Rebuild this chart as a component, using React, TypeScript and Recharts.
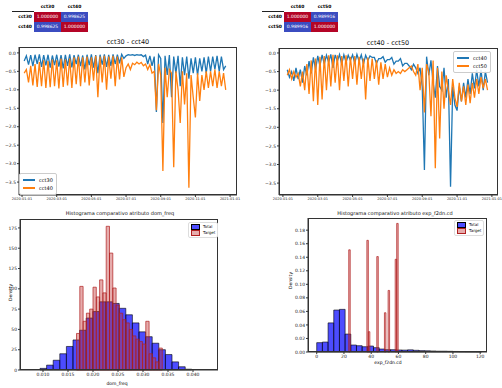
import React from "react";
import { LineChart, Line, XAxis, YAxis, ComposedChart, ReferenceArea } from "recharts";

const FONT = "DejaVu Sans, Verdana, sans-serif";
const BLUE = "#1f77b4";
const ORANGE = "#ff7f0e";

// x tick labels of the two line charts
const dateTicks = ["2020-01-01", "2020-03-01", "2020-05-01", "2020-07-01", "2020-09-01", "2020-11-01", "2021-01-01"];
const dateTickPos = [0, 16, 32, 48, 64, 80, 96];
const lineYTicks = [0, -0.5, -1, -1.5, -2, -2.5, -3, -3.5];

// cct30 vs cct40
const cct30 = [
  -0.22, -0.08, -0.32, -0.06, -0.36, -0.05, -0.3, -0.04, -0.38, -0.06, -0.34, -0.05, -0.4, -0.07, -0.33, -0.05,
  -0.37, -0.06, -0.42, -0.05, -0.35, -0.04, -0.39, -0.06, -0.3, -0.05, -0.36, -0.07, -0.45, -0.05, -0.33, -0.04,
  -0.4, -0.06, -0.55, -0.05, -0.32, -0.04, -0.38, -0.05, -0.35, -0.04, -0.3, -0.05, -0.28, -0.04, -0.15,
  -0.08, -0.05, -0.06, -0.05, -0.07, -0.05, -0.06, -0.05, -0.1, -0.06, -0.3, -0.08, -0.35,
  -0.1, -1.6, -0.05, -0.15, -1.9, -0.08, -0.6, -0.06, -1.2, -0.1, -0.55, -0.08, -0.9, -0.12, -0.6, -0.1, -0.7,
  -0.15, -0.55, -0.12, -0.6, -0.15, -0.5, -0.12, -0.55, -0.1, -0.5, -0.1, -0.45, -0.08, -0.5, -0.1, -0.45, -0.35,
];
const cct40a = [
  -0.55, -0.45, -0.8, -0.35, -0.88, -0.3, -0.92, -0.25, -0.9, -0.2, -0.95, -0.22, -0.93, -0.18, -0.9, -0.2,
  -0.96, -0.15, -0.92, -0.18, -0.88, -0.15, -0.95, -0.12, -0.85, -0.1, -0.9, -0.12, -0.8, -0.1, -0.88, -0.12,
  -0.75, -0.08, -1.2, -0.1, -0.8, -0.08, -1.0, -0.1, -0.7, -0.08, -0.9, -0.1, -0.72, -0.12, -0.65,
  -0.4, -0.3, -0.45, -0.28, -0.32, -0.25, -0.3, -0.26, -0.35, -0.3, -0.45, -0.32, -0.55,
  -0.5, -1.55, -0.3, -0.6, -3.2, -0.4, -1.2, -0.45, -0.55, -3.1, -0.5, -1.0, -1.9, -0.5, -1.4, -0.55, -3.65,
  -0.6, -1.2, -1.75, -0.55, -1.3, -0.6, -1.0, -0.5, -0.95, -0.5, -0.9, -0.45, -0.95, -0.5, -0.9, -0.55, -1.0,
];

// cct40 vs cct50
const cct40b = [
  -0.45, -0.65, -0.5, -0.75, -0.4, -0.7, -0.45, -0.8, -0.35, -0.6, -0.22, -0.55, -0.12, -0.45, -0.08, -0.35,
  -0.05, -0.3, -0.06, -0.25, -0.04, -0.4, -0.05, -0.22, -0.04, -0.3, -0.05, -0.25, -0.06, -0.2, -0.05, -0.28,
  -0.04, -0.22, -0.05, -0.3, -0.06, -0.2, -0.08, -0.12, -0.12, -0.28, -0.15, -0.15, -0.1, -0.25, -0.18, -0.18,
  -0.12, -0.3, -0.22, -0.22, -0.15, -0.35, -0.28, -0.28, -0.35, -0.45, -0.3, -0.4, -0.55, -0.4, -0.9, -3.15,
  -0.1, -0.6, -0.2, -0.8, -1.2, -0.35, -0.9, -1.0, -0.4, -1.2, -0.7, -3.6, -0.9, -1.4, -1.55, -0.9, -1.3, -0.8,
  -1.2, -0.7, -1.1, -0.55, -0.95, -0.45, -0.9, -0.45, -1.0, -0.5, -0.8,
];
const cct50 = [
  -0.6, -0.45, -0.7, -0.5, -0.65, -0.55, -0.9, -0.5, -1.0, -0.3, -1.1, -0.2, -1.3, -0.15, -1.4, -0.1,
  -1.25, -0.08, -1.0, -0.06, -0.9, -0.05, -0.8, -0.06, -1.0, -0.08, -0.75, -0.06, -0.9, -0.1, -0.7, -0.08,
  -0.85, -0.1, -0.7, -0.15, -1.25, -0.12, -0.75, -0.15, -0.7, -0.2, -0.85, -0.25, -0.7, -0.3, -0.65, -0.4,
  -0.6, -0.45, -0.55, -0.5, -0.55, -0.45, -0.5, -0.45, -0.4, -0.35, -0.5, -0.6, -0.3, -1.0, -0.4, -1.6,
  -0.3, -0.5, -1.7, -0.2, -3.1, -0.4, -2.3, -0.5, -1.5, -0.6, -1.0, -1.4, -0.7, -1.2, -1.45, -0.8, -1.3, -0.9,
  -1.4, -0.85, -1.35, -0.8, -1.2, -0.7, -1.1, -0.65, -0.95, -0.7, -1.0,
];

// histogram dom_freq
const domTicks = [0.01, 0.015, 0.02, 0.025, 0.03, 0.035, 0.04];
const domYTicks = [0, 25, 50, 75, 100, 125, 150, 175];
const domTotalStart = 0.0094;
const domTotalWidth = 0.00132;
const domTotal = [2, 6, 12, 20, 29, 37, 49, 64, 72, 84, 84, 82, 76, 68, 58, 47, 41, 33, 25, 19, 10, 4, 1];
const domTargetStart = 0.0167;
const domTargetWidth = 0.00066;
const domTarget = [45, 103, 60, 70, 75, 102, 90, 111, 95, 177, 144, 101, 80, 70, 62, 58, 50, 42, 38, 35, 32, 60, 20, 15, 10, 27];

// histogram exp
const expTicks = [0, 20, 40, 60, 80, 100, 120];
const expYTicks = [0, 0.02, 0.04, 0.06, 0.08, 0.1, 0.12, 0.14, 0.16, 0.18];
const expTotalWidth = 4.17;
const expTotal = [
  0.0138, 0.0147, 0.043, 0.062, 0.063, 0.0265, 0.0103, 0.0093, 0.0078, 0.0088, 0.0064, 0.0044, 0.0034, 0.0034,
  0.003, 0.0028, 0.0032, 0.0025, 0.002, 0.0018, 0.0015, 0.0012, 0.0012, 0.001, 0.0008, 0.0006, 0.0005, 0.0004, 0.0003,
];
const expTargetX = [23.5, 36.8, 37.9, 44.1, 49.7, 52.4, 57.6, 58.7];
const expTargetWidth = 1.1;
const expTarget = [0.151, 0.165, 0.03, 0.141, 0.058, 0.091, 0.137, 0.19];

const tickStyle = { fontSize: 4.5, fill: "#222", fontFamily: FONT };
const xTickStyle = { fontSize: 3.5, fill: "#222", fontFamily: FONT };
const minus = (s: string) => s.replace("-", "\u2212");

function CorrTable({ left, names, values }: any) {
  const cell = (v: string, red: boolean) => (
    <td
      style={{
        background: red ? "#b40426" : "#3b4cc0",
        color: "#fff",
        width: 27,
        height: 10,
        padding: 0,
        textAlign: "center",
        fontSize: 4.5,
      }}
    >
      {v}
    </td>
  );
  return (
    <table
      style={{
        position: "absolute",
        left,
        top: 2,
        borderCollapse: "collapse",
        fontFamily: FONT,
        fontSize: 4.5,
      }}
    >
      <tbody>
        <tr>
          <th style={{ width: 22, height: 9, padding: 0, borderBottom: "1px solid #222" }}></th>
          <th style={{ padding: 0, fontWeight: "bold" }}>{names[0]}</th>
          <th style={{ padding: 0, fontWeight: "bold" }}>{names[1]}</th>
        </tr>
        <tr>
          <th style={{ padding: 0, paddingRight: 2, textAlign: "right" }}>{names[0]}</th>
          {cell(values[0][0], true)}
          {cell(values[0][1], false)}
        </tr>
        <tr>
          <th style={{ padding: 0, paddingRight: 2, textAlign: "right" }}>{names[1]}</th>
          {cell(values[1][0], false)}
          {cell(values[1][1], true)}
        </tr>
      </tbody>
    </table>
  );
}

function Title({ x, y, text, size }: any) {
  return (
    <div
      style={{
        position: "absolute",
        left: x - 100,
        top: y,
        width: 200,
        textAlign: "center",
        fontSize: size,
        fontFamily: FONT,
        color: "#111",
        whiteSpace: "nowrap",
        lineHeight: 1,
      }}
    >
      {text}
    </div>
  );
}

function LineLegend({ left, top, names }: any) {
  return (
    <div
      style={{
        position: "absolute",
        left,
        top,
        border: "0.6px solid #ccc",
        borderRadius: 2,
        background: "rgba(255,255,255,0.85)",
        padding: "2px 3px",
        fontFamily: FONT,
        fontSize: 5,
        lineHeight: "8px",
      }}
    >
      {names.map((n: string, i: number) => (
        <div key={n} style={{ display: "flex", alignItems: "center" }}>
          <span style={{ width: 12, height: 1.4, background: i === 0 ? BLUE : ORANGE, marginRight: 4 }} />
          {n}
        </div>
      ))}
    </div>
  );
}

function HistLegend({ left, top }: any) {
  const items = [
    { n: "Total", c: "rgba(0,0,255,0.7)", s: "#000" },
    { n: "Target", c: "rgba(192,48,48,0.4)", s: "#b02020" },
  ];
  return (
    <div
      style={{
        position: "absolute",
        left,
        top,
        border: "0.6px solid #ddd",
        borderRadius: 2,
        background: "rgba(255,255,255,0.85)",
        padding: "1px 2px",
        fontFamily: FONT,
        fontSize: 4,
        lineHeight: "6px",
      }}
    >
      {items.map((it) => (
        <div key={it.n} style={{ display: "flex", alignItems: "center" }}>
          <span
            style={{
              width: 7,
              height: 3.5,
              background: it.c,
              border: `0.5px solid ${it.s}`,
              marginRight: 3,
            }}
          />
          {it.n}
        </div>
      ))}
    </div>
  );
}

// axes box (matplotlib spines)
function Box({ left, top, width, height }: any) {
  return (
    <div
      style={{
        position: "absolute",
        left,
        top,
        width,
        height,
        boxSizing: "border-box",
        border: "0.8px solid #333",
        pointerEvents: "none",
      }}
    />
  );
}

function TimeChart({ left, top, width, height, margin, yWidth, xDomain, yDomain, a, b, keys, firstT }: any) {
  const rows = a.map((v: number, i: number) => ({ t: i + firstT, [keys[0]]: v, [keys[1]]: b[i] }));
  const px = margin.left + yWidth;
  const pw = width - px - margin.right;
  const ph = height - margin.top - margin.bottom - 13;
  return (
    <div style={{ position: "absolute", left, top, width, height }}>
      <LineChart width={width} height={height} data={rows} margin={margin}>
        <XAxis
          dataKey="t"
          type="number"
          domain={xDomain}
          ticks={dateTickPos}
          tickFormatter={(v: number) => dateTicks[dateTickPos.indexOf(v)]}
          tick={xTickStyle}
          tickSize={2}
          tickMargin={1}
          height={13}
          stroke="#333"
          interval={0}
          allowDataOverflow
        />
        <YAxis
          type="number"
          domain={yDomain}
          ticks={lineYTicks}
          tickFormatter={(v: number) => minus(v.toFixed(1))}
          tick={tickStyle}
          tickSize={2}
          tickMargin={1}
          width={yWidth}
          stroke="#333"
          interval={0}
          allowDataOverflow
        />
        <Line dataKey={keys[0]} stroke={BLUE} strokeWidth={1.3} dot={false} isAnimationActive={false} />
        <Line dataKey={keys[1]} stroke={ORANGE} strokeWidth={1.3} dot={false} isAnimationActive={false} />
      </LineChart>
      <Box left={px} top={margin.top} width={pw} height={ph} />
    </div>
  );
}

function Histogram({ left, top, width, height, margin, yWidth, xDomain, yDomain, xTicks, yTicks, xFmt, yFmt, total, target }: any) {
  const px = margin.left + yWidth;
  const pw = width - px - margin.right;
  const ph = height - margin.top - margin.bottom - 12;
  return (
    <div style={{ position: "absolute", left, top, width, height }}>
      <ComposedChart width={width} height={height} data={total} margin={margin}>
        <XAxis
          dataKey="x0"
          type="number"
          domain={xDomain}
          ticks={xTicks}
          tickFormatter={xFmt}
          tick={tickStyle}
          tickSize={2}
          tickMargin={1}
          height={12}
          stroke="#333"
          interval={0}
          allowDataOverflow
        />
        <YAxis
          type="number"
          domain={yDomain}
          ticks={yTicks}
          tickFormatter={yFmt}
          tick={tickStyle}
          tickSize={2}
          tickMargin={1}
          width={yWidth}
          stroke="#333"
          interval={0}
          allowDataOverflow
        />
        {total.map((d: any, i: number) => (
          <ReferenceArea
            key={"t" + i}
            x1={d.x0}
            x2={d.x1}
            y1={0}
            y2={d.v}
            fill="#0000ff"
            fillOpacity={0.7}
            stroke="#000"
            strokeWidth={0.6}
            strokeOpacity={1}
            ifOverflow="visible"
          />
        ))}
        {target.map((d: any, i: number) => (
          <ReferenceArea
            key={"g" + i}
            x1={d.x0}
            x2={d.x1}
            y1={0}
            y2={d.v}
            fill="#c03030"
            fillOpacity={0.4}
            stroke="#b02020"
            strokeWidth={0.7}
            strokeOpacity={1}
            ifOverflow="visible"
          />
        ))}
        <Line dataKey="v" stroke="none" dot={false} isAnimationActive={false} />
      </ComposedChart>
      <Box left={px} top={margin.top} width={pw} height={ph} />
    </div>
  );
}

export default function App() {
  const domTotalBins = domTotal.map((v, i) => ({ x0: domTotalStart + i * domTotalWidth, x1: domTotalStart + (i + 1) * domTotalWidth, v }));
  const domTargetBins = domTarget.map((v, i) => ({ x0: domTargetStart + i * domTargetWidth, x1: domTargetStart + (i + 1) * domTargetWidth, v }));
  const expTotalBins = expTotal.map((v, i) => ({ x0: i * expTotalWidth, x1: (i + 1) * expTotalWidth, v }));
  const expTargetBins = expTarget.map((v, i) => ({ x0: expTargetX[i], x1: expTargetX[i] + expTargetWidth, v }));

  return (
    <div style={{ position: "absolute", left: 0, top: 0, width: 502, height: 388, background: "#fff", overflow: "hidden" }}>
      <CorrTable left={12} names={["cct30", "cct40"]} values={[["1.000000", "0.998625"], ["0.998625", "1.000000"]]} />
      <CorrTable left={262} names={["cct40", "cct50"]} values={[["1.000000", "0.989916"], ["0.989916", "1.000000"]]} />

      <Title x={128} y={39} text="cct30 - cct40" size={6.5} />
      <TimeChart
        left={0}
        top={38}
        width={245}
        height={170}
        margin={{ top: 9, right: 8, bottom: 0, left: 0 }}
        yWidth={19}
        xDomain={[-1.4, 99.2]}
        yDomain={[-3.85, 0.16]}
        a={cct30}
        b={cct40a}
        keys={["cct30", "cct40"]}
        firstT={1}
      />
      <LineLegend left={19} top={173} names={["cct30", "cct40"]} />

      <Title x={388} y={40} text="cct40 - cct50" size={6.5} />
      <TimeChart
        left={258}
        top={38}
        width={244}
        height={170}
        margin={{ top: 10, right: 4, bottom: 0, left: 0 }}
        yWidth={21}
        xDomain={[-1.8, 98.8]}
        yDomain={[-3.82, 0.134]}
        a={cct40b}
        b={cct50}
        keys={["cct40", "cct50"]}
        firstT={2}
      />
      <LineLegend left={453} top={51} names={["cct40", "cct50"]} />

      <Title x={120} y={211} text="Histograma comparativo atributo dom_freq" size={5} />
      <Histogram
        left={0}
        top={212}
        width={225}
        height={170}
        margin={{ top: 7, right: 7, bottom: 0, left: 0 }}
        yWidth={20}
        xDomain={[0.0054, 0.045]}
        yDomain={[0, 186]}
        xTicks={domTicks}
        yTicks={domYTicks}
        xFmt={(v: number) => v.toFixed(3)}
        yFmt={(v: number) => String(v)}
        total={domTotalBins}
        target={domTargetBins}
      />
      <HistLegend left={188} top={222} />
      <div style={{ position: "absolute", left: 0, top: 290, transform: "rotate(-90deg)", fontSize: 4.5, fontFamily: FONT, width: 20, textAlign: "center" }}>Density</div>
      <div style={{ position: "absolute", left: 97, top: 381, width: 40, textAlign: "center", fontSize: 4.5, fontFamily: FONT }}>dom_freq</div>

      <Title x={395} y={211} text="Histograma comparativo atributo exp_f2dn.cd" size={5} />
      <Histogram
        left={280}
        top={212}
        width={215}
        height={152}
        margin={{ top: 6, right: 8, bottom: 0, left: 0 }}
        yWidth={28}
        xDomain={[-6.4, 125]}
        yDomain={[0, 0.198]}
        xTicks={expTicks}
        yTicks={expYTicks}
        xFmt={(v: number) => String(v)}
        yFmt={(v: number) => v.toFixed(2)}
        total={expTotalBins}
        target={expTargetBins}
      />
      <HistLegend left={454} top={220} />
      <div style={{ position: "absolute", left: 280, top: 278, transform: "rotate(-90deg)", fontSize: 4.5, fontFamily: FONT, width: 20, textAlign: "center" }}>Density</div>
      <div style={{ position: "absolute", left: 368, top: 360, width: 40, textAlign: "center", fontSize: 4.5, fontFamily: FONT }}>exp_f2dn.cd</div>
    </div>
  );
}
